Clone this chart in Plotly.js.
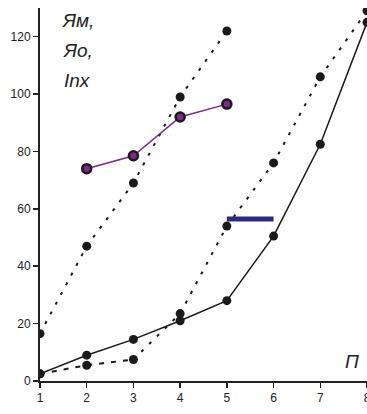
<!DOCTYPE html>
<html><head><meta charset="utf-8">
<script src="https://cdn.plot.ly/plotly-3.0.1.min.js"></script>
<style>html,body{margin:0;padding:0;background:#fff;overflow:hidden}</style>
</head><body><div id="chart" style="width:367px;height:414px"></div>
<script>
const xAll = [1, 2, 3, 4, 5, 6, 7, 8];
const solidY = [2.5, 9, 14.5, 21, 28, 50.5, 82.5, 125];
const lowerDotX = [1, 2, 3, 4, 5, 6, 7, 8];
const lowerDotY = [2.5, 5.5, 7.5, 23.5, 54, 76, 106, 129];
const upperDotX = [1, 2, 3, 4, 5];
const upperDotY = [16.5, 47, 69, 99, 122];
const purpleX = [2, 3, 4, 5];
const purpleY = [74, 78.5, 92, 96.5];
const barX = [5, 6];
const barY = [56.5, 56.5];
const xTicks = [1, 2, 3, 4, 5, 6, 7, 8];
const yTicks = [0, 20, 40, 60, 80, 100, 120];

const mk = {color: '#1a1a1a', size: 9};
const traces = [
  {x: xAll, y: solidY, mode: 'lines+markers', line: {color: '#1a1a1a', width: 1.5}, marker: mk},
  {x: lowerDotX.slice(0, 3), y: lowerDotY.slice(0, 3), mode: 'lines', line: {color: '#1a1a1a', width: 2, dash: '5px,7px'}},
  {x: lowerDotX.slice(2), y: lowerDotY.slice(2), mode: 'lines', line: {color: '#1a1a1a', width: 2, dash: '3px,8px'}},
  {x: lowerDotX, y: lowerDotY, mode: 'markers', marker: mk},
  {x: upperDotX, y: upperDotY, mode: 'lines+markers', line: {color: '#1a1a1a', width: 2, dash: '3px,8px'}, marker: mk},
  {x: purpleX, y: purpleY, mode: 'lines+markers', line: {color: '#7b2a8a', width: 1.5},
   marker: {color: '#7b2a8a', size: 9, line: {color: '#1a1a1a', width: 2.5}}},
  {x: barX, y: barY, mode: 'lines', line: {color: '#2b2b7d', width: 5}}
];

const layout = {
  width: 367, height: 414,
  margin: {l: 40, r: 0, t: 8, b: 33},
  showlegend: false,
  paper_bgcolor: '#fff', plot_bgcolor: '#fff',
  font: {family: 'Liberation Sans, Arial, sans-serif', size: 12, color: '#222'},
  xaxis: {range: [1, 8], tickvals: xTicks, ticktext: xTicks.map(String), showgrid: false, zeroline: false,
    showline: true, linecolor: '#222', linewidth: 2, ticks: 'outside', ticklen: 5, tickwidth: 1.5, tickcolor: '#222',
    tickfont: {size: 12}, ticklabeloverflow: 'allow', fixedrange: true},
  yaxis: {range: [0, 130], tickvals: yTicks, showgrid: false, zeroline: false,
    showline: true, linecolor: '#222', linewidth: 2, ticks: 'outside', ticklen: 5, tickwidth: 1.5, tickcolor: '#222',
    tickfont: {size: 12}, fixedrange: true},
  annotations: [
    {text: '<i>Ям,</i>', xref: 'paper', yref: 'paper', x: 0.115, y: 1.0, xanchor: 'center', yanchor: 'top', showarrow: false, font: {size: 19, color: '#222'}},
    {text: '<i>Яо,</i>', xref: 'paper', yref: 'paper', x: 0.115, y: 0.92, xanchor: 'center', yanchor: 'top', showarrow: false, font: {size: 19, color: '#222'}},
    {text: '<i>Inx</i>', xref: 'paper', yref: 'paper', x: 0.115, y: 0.84, xanchor: 'center', yanchor: 'top', showarrow: false, font: {size: 19, color: '#222'}},
    {text: '<i>П</i>', xref: 'paper', yref: 'paper', x: 0.955, y: 0.085, xanchor: 'center', yanchor: 'top', showarrow: false, font: {size: 19, color: '#222'}}
  ]
};
Plotly.newPlot('chart', traces, layout, {displayModeBar: false, staticPlot: true});
</script></body></html>
